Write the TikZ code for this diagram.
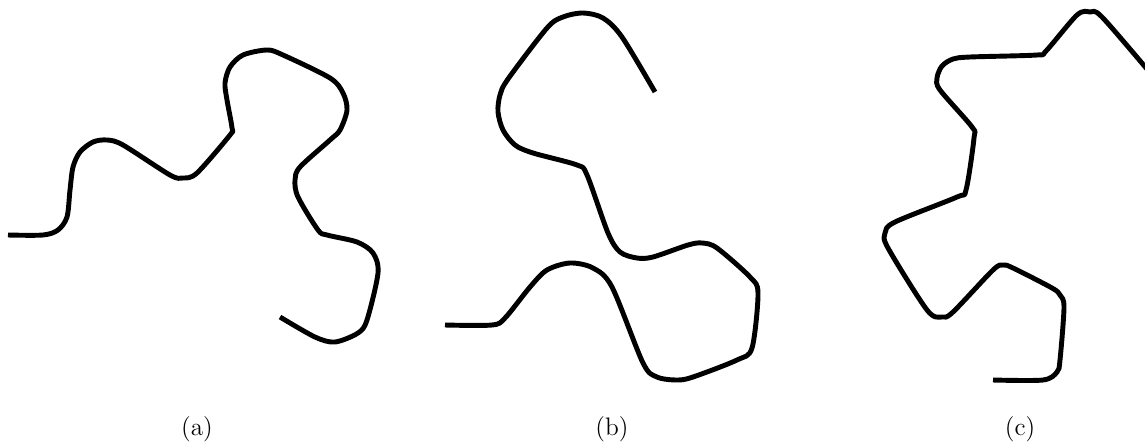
\documentclass[tikz,border=0pt]{standalone}
\usepackage{amsfonts,amssymb,amsmath}
\usepackage{tikz}
\usetikzlibrary{arrows.meta}

\begin{document}
\begin{tikzpicture}[x=0.02cm,y=-0.02cm,
  chain/.style={line width=2.8pt,black,line cap=butt,line join=round},
  caption/.style={anchor=base,font=\Large}]
\useasboundingbox (0,0) rectangle (1145,443);
%(a)
\draw[chain] plot[smooth,tension=0.5] coordinates{
 (8,235)(43,235)(58,230)(67,217)(70,190)(73,167)(80,152)(93,142)(107,140)
 (123,145)(170,175)(183,178)(197,173)(230,135)(232,128)(227,100)(225,83)
 (230,67)(243,55)(267,50)(283,55)(330,78)(343,93)(347,110)(340,130)(330,140)
 (300,167)(295,180)(298,197)(318,230)(327,235)(357,242)(373,253)(378,273)
 (367,320)(358,333)(335,342)(315,337)(280,317)};
%(b)
\draw[chain] plot[smooth,tension=0.5] coordinates{
 (445,325)(492,325)(505,318)(530,287)(547,270)(570,263)(593,268)(612,287)
 (643,363)(657,377)(677,380)(693,377)(737,360)(752,348)(758,293)(750,277)
 (717,248)(702,243)(688,245)(653,257)(637,258)(620,252)(608,233)(587,175)
 (577,165)(533,153)(515,145)(503,130)(498,112)(500,95)(508,79)(547,28)
 (563,17)(583,13)(603,18)(622,37)(655,92)};
%(c)
\draw[chain] plot[smooth,tension=0.5] coordinates{
 (993,380)(1043,380)(1057,372)(1060,360)(1064,307)(1060,295)(1052,288)
 (1013,268)(1003,265)(993,270)(953,312)(942,317)(927,310)(888,248)(885,233)
 (895,222)(957,197)(966,190)(974,138)(972,127)(940,90)(937,78)(942,66)
 (953,59)(970,57)(1037,55)(1046,51)(1077,15)(1090,12)(1102,17)(1152,75)};
\node[caption] (la) at (197,435) {(a)};
\node[caption] (lb) at (612,435) {(b)};
\node[caption] (lc) at (1020,435) {(c)};
\end{tikzpicture}
\end{document}
